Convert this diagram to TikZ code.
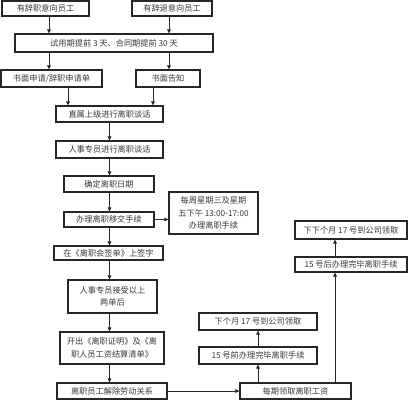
\documentclass[tikz,border=0pt]{standalone}
\usepackage{fontspec}
\setmainfont{Noto Sans CJK SC}
\usetikzlibrary{arrows.meta}
\begin{document}
\begin{tikzpicture}[x=1pt,y=-1pt,
  box/.style={draw=black!85,line width=1.2pt,inner sep=0pt,align=center,
    text=black!78,font=\fontsize{8.2}{12.5}\selectfont},
  arr/.style={draw=black!85,line width=0.9pt,-{Triangle[length=4pt,width=3.6pt]}},
  ln/.style={draw=black!85,line width=0.9pt}]
\useasboundingbox (0,0) rectangle (414,400);
\node[box,minimum width=87pt,minimum height=15pt] (b1) at (45.5,8.5) {有辞职意向员工};
\node[box,minimum width=80pt,minimum height=15pt] (b2) at (172,8.5) {有辞退意向员工};
\node[box,minimum width=198pt,minimum height=18pt] (b3) at (114,43) {试用期提前 3 天、合同期提前 30 天};
\node[box,minimum width=101pt,minimum height=17pt] (b4) at (51.5,78.5) {书面申请/辞职申请单};
\node[box,minimum width=64pt,minimum height=17pt] (b5) at (168,78.5) {书面告知};
\node[box,minimum width=107pt,minimum height=16pt] (b6) at (109.5,114) {直属上级进行离职谈话};
\node[box,minimum width=107pt,minimum height=17pt] (b7) at (109.5,149.5) {人事专员进行离职谈话};
\node[box,minimum width=90pt,minimum height=16pt] (b8) at (109,184) {确定离职日期};
\node[box,minimum width=90pt,minimum height=15pt] (b9) at (109,219.5) {办理离职移交手续};
\node[box,minimum width=89pt,minimum height=42pt] (b10) at (213.5,213) {每周星期三及星期\\五下午 13:00-17:00\\办理离职手续};
\node[box,minimum width=109pt,minimum height=14pt] (b11) at (108.5,253) {在《离职会签单》上签字};
\node[box,minimum width=89pt,minimum height=33pt] (b12) at (112.5,296.5) {人事专员接受以上\\两单后};
\node[box,minimum width=104pt,minimum height=32pt] (b13) at (112,348) {开出《离职证明》及《离\\职人员工资结算清单》};
\node[box,minimum width=110pt,minimum height=16pt] (b14) at (112,391) {离职员工解除劳动关系};
\node[box,minimum width=111pt,minimum height=16pt] (b15) at (295.5,391) {每期领取离职工资};
\node[box,minimum width=118pt,minimum height=17pt] (b16) at (258,355.5) {15 号前办理完毕离职手续};
\node[box,minimum width=118pt,minimum height=17pt] (b17) at (258,321.5) {下个月 17 号到公司领取};
\node[box,minimum width=112pt,minimum height=15pt] (b18) at (351,264.5) {15 号后办理完毕离职手续};
\node[box,minimum width=112pt,minimum height=18pt] (b19) at (351,230) {下下个月 17 号到公司领取};
\coordinate (xa) at (49,0);
\coordinate (xb) at (169,0);
\coordinate (xc) at (68,0);
\coordinate (xd) at (153,0);
\coordinate (xm) at (109.5,0);
\coordinate (xr) at (335,0);
\draw[arr] (b1.south -| xa) -- (b3.north -| xa);
\draw[arr] (b2.south -| xb) -- (b3.north -| xb);
\draw[arr] (b3.south -| xa) -- (b4.north -| xa);
\draw[arr] (b3.south -| xb) -- (b5.north -| xb);
\draw[arr] (b4.south -| xc) -- (b6.north -| xc);
\draw[arr] (b5.south -| xd) -- (b6.north -| xd);
\draw[arr] (b6.south -| xm) -- (b7.north -| xm);
\draw[arr] (b7.south -| xm) -- (b8.north -| xm);
\draw[arr] (b8.south -| xm) -- (b9.north -| xm);
\draw[arr] (b9.east) -- (b10.west |- b9.east);
\draw[arr] (b9.south -| xm) -- (b11.north -| xm);
\draw[arr] (b11.south -| xm) -- (b12.north -| xm);
\draw[arr] (b12.south -| xm) -- (b13.north -| xm);
\draw[arr] (b13.south -| xm) -- (b14.north -| xm);
\draw[arr] (b14.east) -- (b15.west);
\draw[arr] (b15.north -| b16.south) -- (b16.south);
\draw[arr] (b16.north) -- (b17.south);
\draw[arr] (b15.north -| xr) -- (b18.south -| xr);
\draw[arr] (b18.north -| xr) -- (b19.south -| xr);
\end{tikzpicture}
\end{document}
